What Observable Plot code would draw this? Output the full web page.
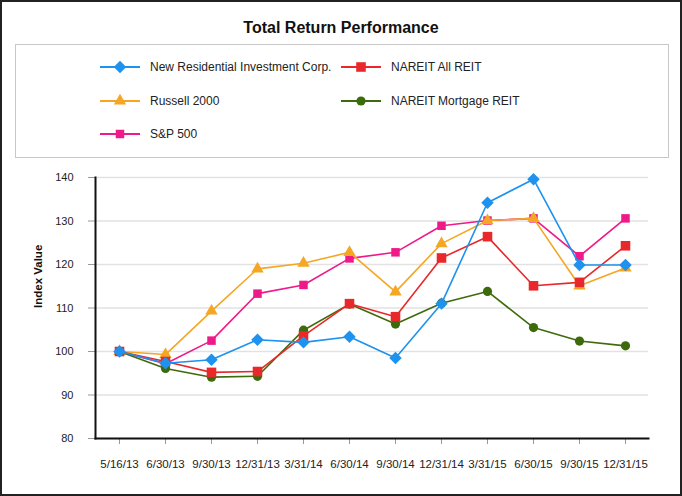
<!DOCTYPE html>
<html>
<head>
<meta charset="utf-8">
<script src="https://cdn.jsdelivr.net/npm/d3@7"></script>
<script src="https://cdn.jsdelivr.net/npm/@observablehq/plot@0.6"></script>
<style>
  body { margin: 0; background: #fff; font-family: "Liberation Sans", Arial, sans-serif; }
  #page { position: relative; width: 682px; height: 496px; background: #fff; overflow: hidden; }
  #frame { position: absolute; left: 0; top: 0; right: 0; bottom: 0; border: 2px solid #222; pointer-events: none; z-index: 5; }
  #title { position: absolute; left: 0; top: 19px; width: 682px; text-align: center; font-size: 16px; line-height: 18px; font-weight: bold; color: #111; }
  #legend-box { position: absolute; left: 15px; top: 44px; width: 652px; height: 112px; border: 1px solid #c8c8c8; }
  .item { position: absolute; height: 16px; font-size: 12px; line-height: 16px; color: #222; white-space: nowrap; }
  .item svg { position: absolute; left: 0; top: 0; }
  .item span { position: absolute; left: 50px; top: 0; }
  #chart { position: absolute; left: 0; top: 160px; }
</style>
</head>
<body>
<div id="page">
  <div id="title">Total Return Performance</div>
  <div id="legend-box"></div>
  <div id="legend"></div>
  <div id="chart"></div>
  <div id="frame"></div>
</div>
<script>
var dates = ["5/16/13", "6/30/13", "9/30/13", "12/31/13", "3/31/14", "6/30/14", "9/30/14", "12/31/14", "3/31/15", "6/30/15", "9/30/15", "12/31/15"]

var nrz = [100, 97.3, 98.1, 102.7, 102.1, 103.4, 98.5, 111.0, 134.2, 139.6, 119.9, 119.9]
var russell = [100, 99.3, 109.3, 119.0, 120.3, 122.8, 113.7, 124.8, 130.1, 130.6, 115.1, 119.2]
var sp500 = [100, 97.2, 102.5, 113.3, 115.3, 121.4, 122.8, 128.9, 130.1, 130.6, 121.9, 130.6]
var nareitAll = [100, 97.7, 95.2, 95.4, 103.6, 111.0, 108.0, 121.5, 126.4, 115.1, 115.9, 124.3]
var nareitMortgage = [100, 96.1, 94.1, 94.3, 104.9, 110.9, 106.3, 111.1, 113.8, 105.5, 102.4, 101.3]

var yTicks = [80, 90, 100, 110, 120, 130, 140]

// legend order (two columns) and draw order (bottom to top)
var series = [
  {name: "New Residential Investment Corp.", values: nrz, color: "#1d92ee", symbol: "diamond2", r: 5.6, col: 0, row: 0},
  {name: "NAREIT All REIT", values: nareitAll, color: "#e8282a", symbol: "square", r: 5.4, col: 1, row: 0},
  {name: "Russell 2000", values: russell, color: "#f5a623", symbol: "triangle", r: 4.6, col: 0, row: 1},
  {name: "NAREIT Mortgage REIT", values: nareitMortgage, color: "#3d6b0c", symbol: "circle", r: 4.6, col: 1, row: 1},
  {name: "S&P 500", values: sp500, color: "#ee1a8a", symbol: "square", r: 4.8, col: 0, row: 2}
]
var drawOrder = ["S&P 500", "Russell 2000", "NAREIT Mortgage REIT", "NAREIT All REIT", "New Residential Investment Corp."]

var symbolTypes = {diamond2: d3.symbolDiamond2, square: d3.symbolSquare, triangle: d3.symbolTriangle, circle: d3.symbolCircle}

function makeLegend() {
  var legend = document.getElementById("legend")
  series.forEach(function(s) {
    var item = document.createElement("div")
    item.className = "item"
    item.style.left = (s.col == 0 ? 100 : 341) + "px"
    item.style.top = (59 + s.row * 33.5) + "px"
    var path = d3.symbol(symbolTypes[s.symbol], Math.PI * s.r * s.r)()
    item.innerHTML =
      `<svg width="42" height="16"><line x1="0" x2="40" y1="8" y2="8" stroke="${s.color}" stroke-width="1.8"/>` +
      `<path d="${path}" transform="translate(20,8)" fill="${s.color}"/></svg>` +
      `<span>${s.name.replace("&", "&amp;")}</span>`
    legend.append(item)
  })
}

function makePlot() {
  var marks = [
    Plot.gridY(yTicks, {stroke: "#e2e2e2", strokeOpacity: 1, strokeWidth: 1.5}),
    Plot.axisY(yTicks, {tickSize: 7, tickPadding: 15, stroke: "#999", fill: "#222", label: null}),
    Plot.axisX({tickSize: 6, tickPadding: 15, stroke: "#999", fill: "#222", label: null, fontSize: 11.5}),
    Plot.frame({anchor: "left", stroke: "#111", strokeWidth: 2}),
    Plot.frame({anchor: "bottom", stroke: "#111", strokeWidth: 2}),
    Plot.text(["Index Value"], {frameAnchor: "left", rotate: -90, dx: -57, fontWeight: "bold", fontSize: 11.5, fill: "#111"})
  ]

  drawOrder.forEach(function(name) {
    var s = series.find(d => d.name == name)
    var rows = s.values.map((v, i) => ({date: dates[i], value: v}))
    marks.push(Plot.line(rows, {x: "date", y: "value", stroke: s.color, strokeWidth: 1.6}))
    marks.push(Plot.dot(rows, {x: "date", y: "value", symbol: s.symbol, r: s.r, fill: s.color, stroke: "none"}))
  })

  return Plot.plot({
    width: 682,
    height: 330,
    marginTop: 17,
    marginBottom: 52,
    marginLeft: 95,
    marginRight: 34,
    style: {fontFamily: "'Liberation Sans', Arial, sans-serif", fontSize: "11px", background: "transparent", color: "#222"},
    x: {type: "point", domain: dates, padding: 0.5},
    y: {domain: [80, 140]},
    marks: marks
  })
}

makeLegend()
document.getElementById("chart").append(makePlot())
</script>
</body>
</html>
